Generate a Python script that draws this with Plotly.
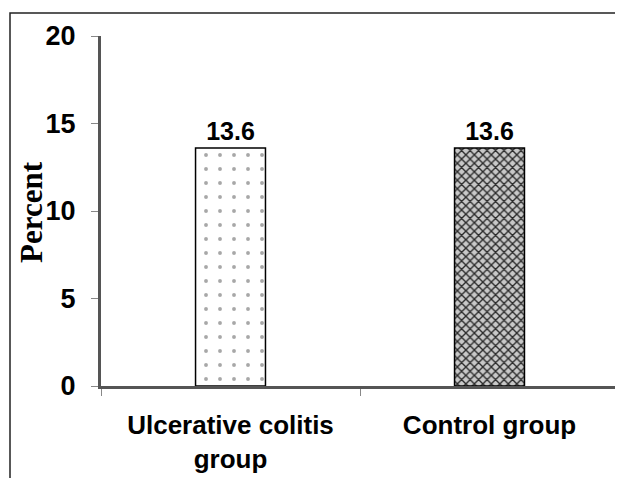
import plotly.graph_objects as go

categories = ["Ulcerative colitis<br>group", "Control group"]
values = [13.6, 13.6]
value_labels = ["13.6", "13.6"]
y_ticks = [0, 5, 10, 15, 20]

# page body adds an 8px offset; lay out in figure coordinates
OFF = 8
W, H = 623 - OFF, 478 - OFF
L, R, T, B = 101 - OFF, 4, 36 - OFF, 92
pw = W - L - R
ph = H - T - B
y0px = H - B  # pixel row of y=0 in figure coords

patterns = [
    dict(shape=".", size=14, solidity=0.06, fgcolor="#505050", bgcolor="white", fillmode="overlay"),
    dict(shape="x", size=6, solidity=0.4, fgcolor="#2a2a2a", bgcolor="#c8c8c8", fillmode="replace"),
]
fills = ["white", "#c8c8c8"]

fig = go.Figure()
for i in range(len(categories)):
    fig.add_trace(go.Bar(
        x=[categories[i]],
        y=[values[i]],
        text=[value_labels[i]],
        textposition="outside",
        textfont=dict(family="Liberation Sans", size=25, color="black", weight="bold"),
        cliponaxis=False,
        width=0.27,
        marker=dict(
            color=fills[i],
            line=dict(color="black", width=1.5),
            pattern=patterns[i],
        ),
        showlegend=False,
    ))

fig.update_layout(
    width=W, height=H,
    margin=dict(l=L, r=R, t=T, b=B),
    paper_bgcolor="white",
    plot_bgcolor="white",
    barmode="overlay",
    xaxis=dict(
        type="category",
        categoryorder="array", categoryarray=categories,
        showline=True, linecolor="#555555", linewidth=3,
        ticks="outside", tickson="boundaries", ticklen=7, tickcolor="#888888", tickwidth=1,
        tickfont=dict(family="Liberation Sans", size=26, color="black", weight="bold"),
        ticklabelstandoff=14,
        showgrid=False, zeroline=False,
    ),
    yaxis=dict(
        range=[0, 20],
        tickvals=y_ticks,
        showline=True, linecolor="#555555", linewidth=3,
        ticks="outside", ticklen=7, tickcolor="#888888", tickwidth=1,
        tickfont=dict(family="Liberation Sans", size=27, color="black", weight="bold"),
        ticklabelstandoff=10,
        showgrid=False, zeroline=False,
    ),
    annotations=[dict(
        text="Percent", xref="paper", yref="paper",
        x=(31 - OFF - L) / pw, y=(y0px - (212 - OFF)) / ph,
        xanchor="center", yanchor="middle", textangle=-90, showarrow=False,
        font=dict(family="Liberation Serif", size=31, color="black", weight="bold"),
    )],
    shapes=[dict(
        type="rect", xref="paper", yref="paper",
        x0=(10 - OFF - L) / pw, x1=1.2, y0=-0.5, y1=(y0px - (13 - OFF)) / ph,
        line=dict(color="#222222", width=1.5), fillcolor="rgba(0,0,0,0)", layer="below",
    )],
)

fig.write_html("out.html")
